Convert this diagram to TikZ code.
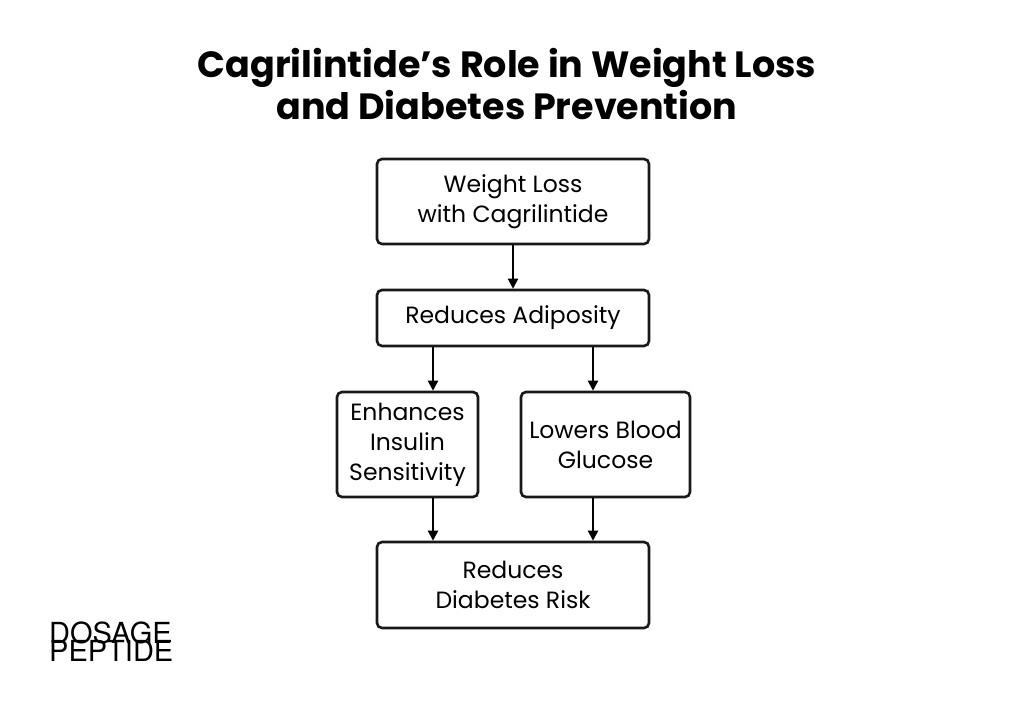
\documentclass[tikz,border=0pt]{standalone}
\usepackage{fontspec}
\setmainfont{Poppins}
\newfontfamily\logofont{TeX Gyre Heros}
\usetikzlibrary{arrows.meta}
\begin{document}
\begin{tikzpicture}[x=1pt,y=-1pt,
  box/.style={draw=black!90,line width=2.6pt,rounded corners=5pt,align=center,font=\fontsize{23.5}{30}\selectfont,inner sep=0pt},
  arr/.style={-{Triangle[length=10pt,width=10pt]},line width=2.2pt}]
\useasboundingbox (0,0) rectangle (1024,703);
\node[font=\bfseries\fontsize{36.5}{42}\selectfont,align=center] (t) at (507,84) {Cagrilintide’s Role in Weight Loss\\and Diabetes Prevention};
\node[box,minimum width=272pt,minimum height=85pt] (b1) at (513,201.5) {Weight Loss\\with Cagrilintide};
\node[box,minimum width=272pt,minimum height=56pt] (b2) at (513,318) {Reduces Adiposity};
\node[box,minimum width=141pt,minimum height=105pt] (b3) at (407.5,444.5) {Enhances\\Insulin\\Sensitivity};
\node[box,minimum width=169pt,minimum height=105pt] (b4) at (605.5,444.5) {Lowers Blood\\Glucose};
\node[box,minimum width=272pt,minimum height=86pt] (b5) at (513,585) {Reduces\\Diabetes Risk};
\coordinate (xa) at (433,0);
\coordinate (xb) at (593,0);
\draw[arr] (b1.south) -- (b2.north);
\draw[arr] (b2.south -| xa) -- (b3.north -| xa);
\draw[arr] (b2.south -| xb) -- (b4.north -| xb);
\draw[arr] (b3.south -| xa) -- (b5.north -| xa);
\draw[arr] (b4.south -| xb) -- (b5.north -| xb);
\node[anchor=west,font=\logofont\fontsize{29}{29}\selectfont,inner sep=0pt] (l1) at (49,633) {DOSAGE};
\node[anchor=west,font=\logofont\fontsize{29}{29}\selectfont,inner sep=0pt] (l2) at (49,651) {PEPTIDE};
\end{tikzpicture}
\end{document}
